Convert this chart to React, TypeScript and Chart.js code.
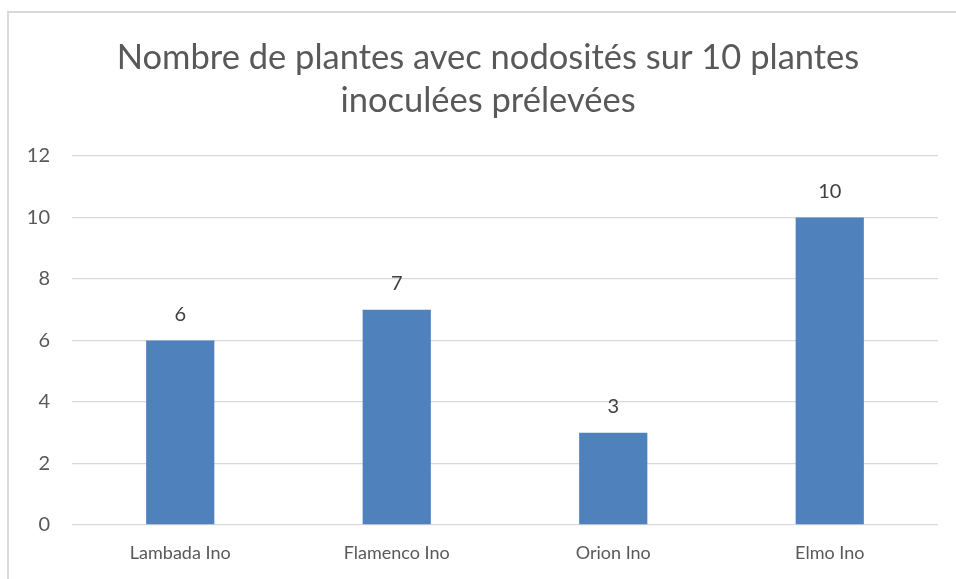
import React, { useEffect, useRef } from "react";
import { Chart, registerables } from "chart.js";

Chart.register(...registerables);

const categories = ["Lambada Ino", "Flamenco Ino", "Orion Ino", "Elmo Ino"];
const values = [6, 7, 3, 10];
const titleLines = ["Nombre de plantes avec nodosités sur 10 plantes", "inoculées prélevées"];
const yMin = 0;
const yMax = 12;
const yStep = 2;

const FONT = "Lato, 'Open Sans', sans-serif";

const dataLabels = {
  id: "dataLabels",
  afterDatasetsDraw(chart: any) {
    const ctx = chart.ctx;
    ctx.save();
    ctx.font = `20px ${FONT}`;
    ctx.fillStyle = "#404040";
    ctx.textAlign = "center";
    ctx.textBaseline = "middle";
    chart.getDatasetMeta(0).data.forEach((el: any, i: number) => {
      ctx.fillText(String(values[i]), el.x, el.y - 26);
    });
    ctx.restore();
  },
};

const titlePlugin = {
  id: "frameTitle",
  afterDraw(chart: any) {
    const ctx = chart.ctx;
    ctx.save();
    ctx.font = `34.5px ${FONT}`;
    ctx.fillStyle = "#595959";
    ctx.textAlign = "center";
    ctx.textBaseline = "middle";
    const cx = 488;
    titleLines.forEach((line, i) => {
      ctx.fillText(line, cx, 58 + i * 42.5);
    });
    ctx.restore();
  },
};

export default function App() {
  const ref = useRef<HTMLCanvasElement | null>(null);
  useEffect(() => {
    if (!ref.current) return;
    const chart = new Chart(ref.current, {
      type: "bar",
      data: {
        labels: categories,
        datasets: [
          {
            data: values,
            backgroundColor: "#4F81BD",
            categoryPercentage: 1,
            barPercentage: 0.315,
          },
        ],
      },
      options: {
        animation: false,
        responsive: false,
        layout: { padding: { left: 0, right: 18, top: 156, bottom: 0 } },
        plugins: {
          legend: { display: false },
          tooltip: { enabled: false },
          title: { display: false },
        },
        scales: {
          x: {
            grid: { display: false, drawTicks: false },
            border: { display: false },
            ticks: { color: "#595959", font: { family: FONT, size: 18 }, padding: 17 },
            afterFit(scale: any) {
              scale.height = 54;
            },
          },
          y: {
            min: yMin,
            max: yMax,
            ticks: { stepSize: yStep, color: "#595959", font: { family: FONT, size: 20 }, padding: 22 },
            grid: { color: "#D9D9D9", lineWidth: 1.3, drawTicks: false },
            border: { display: false },
            afterFit(scale: any) {
              scale.width = 72;
            },
          },
        },
      },
      plugins: [dataLabels, titlePlugin],
    });
    return () => chart.destroy();
  }, []);
  return (
    <div style={{ position: "absolute", left: 0, top: 0, width: 956, height: 579, background: "#fff", overflow: "hidden" }}>
      <div
        style={{
          position: "absolute",
          left: 7,
          top: 11,
          width: 1000,
          height: 700,
          borderLeft: "2px solid #D9D9D9",
          borderTop: "2px solid #D9D9D9",
        }}
      />
      <canvas ref={ref} width={956} height={579} style={{ position: "absolute", left: 0, top: 0 }} />
    </div>
  );
}
